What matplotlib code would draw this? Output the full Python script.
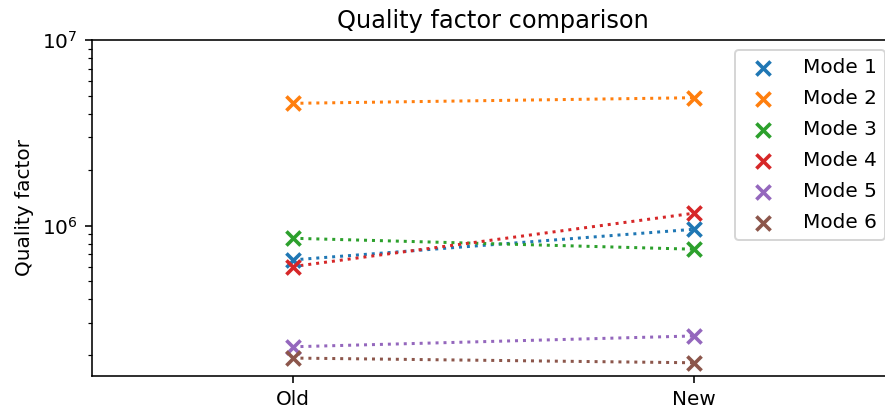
import matplotlib
matplotlib.use('Agg')
import matplotlib.pyplot as plt

# 数据
versions = ['Old', 'New']
modes = ['Mode 1', 'Mode 2', 'Mode 3', 'Mode 4', 'Mode 5', 'Mode 6']
q_old = [6.53e5, 4.57e6, 8.55e5, 6.01e5, 2.22e5, 1.93e5]
q_new = [9.56e5, 4.90e6, 7.46e5, 1.167e6, 2.54e5, 1.82e5]

dpi = 144
fig = plt.figure(figsize=(885 / dpi, 409 / dpi), dpi=dpi)
ax = fig.add_axes([91.7 / 885, 1 - 375.7 / 409, 803.2 / 885, 335.4 / 409])

color_cycle = plt.rcParams['axes.prop_cycle'].by_key()['color']
x = list(range(len(versions)))
for i, mode in enumerate(modes):
    color = color_cycle[i % len(color_cycle)]
    ax.plot(x, [q_old[i], q_new[i]], ':', color=color, linewidth=1.5)
    ax.scatter(x, [q_old[i], q_new[i]], marker='x', color=color, s=50,
               linewidths=1.8, label=mode, zorder=3)

ax.set_yscale('log')
ax.set_ylim(1.55e5, 1e7)
ax.set_xlim(-0.5, 1.5)
ax.set_xticks(x)
ax.set_xticklabels(versions)
ax.set_ylabel('Quality factor')
ax.set_title('Quality factor comparison')
ax.legend(loc='upper right', labelspacing=0.6, handletextpad=1.0)

fig.savefig('out.png', dpi=dpi)
